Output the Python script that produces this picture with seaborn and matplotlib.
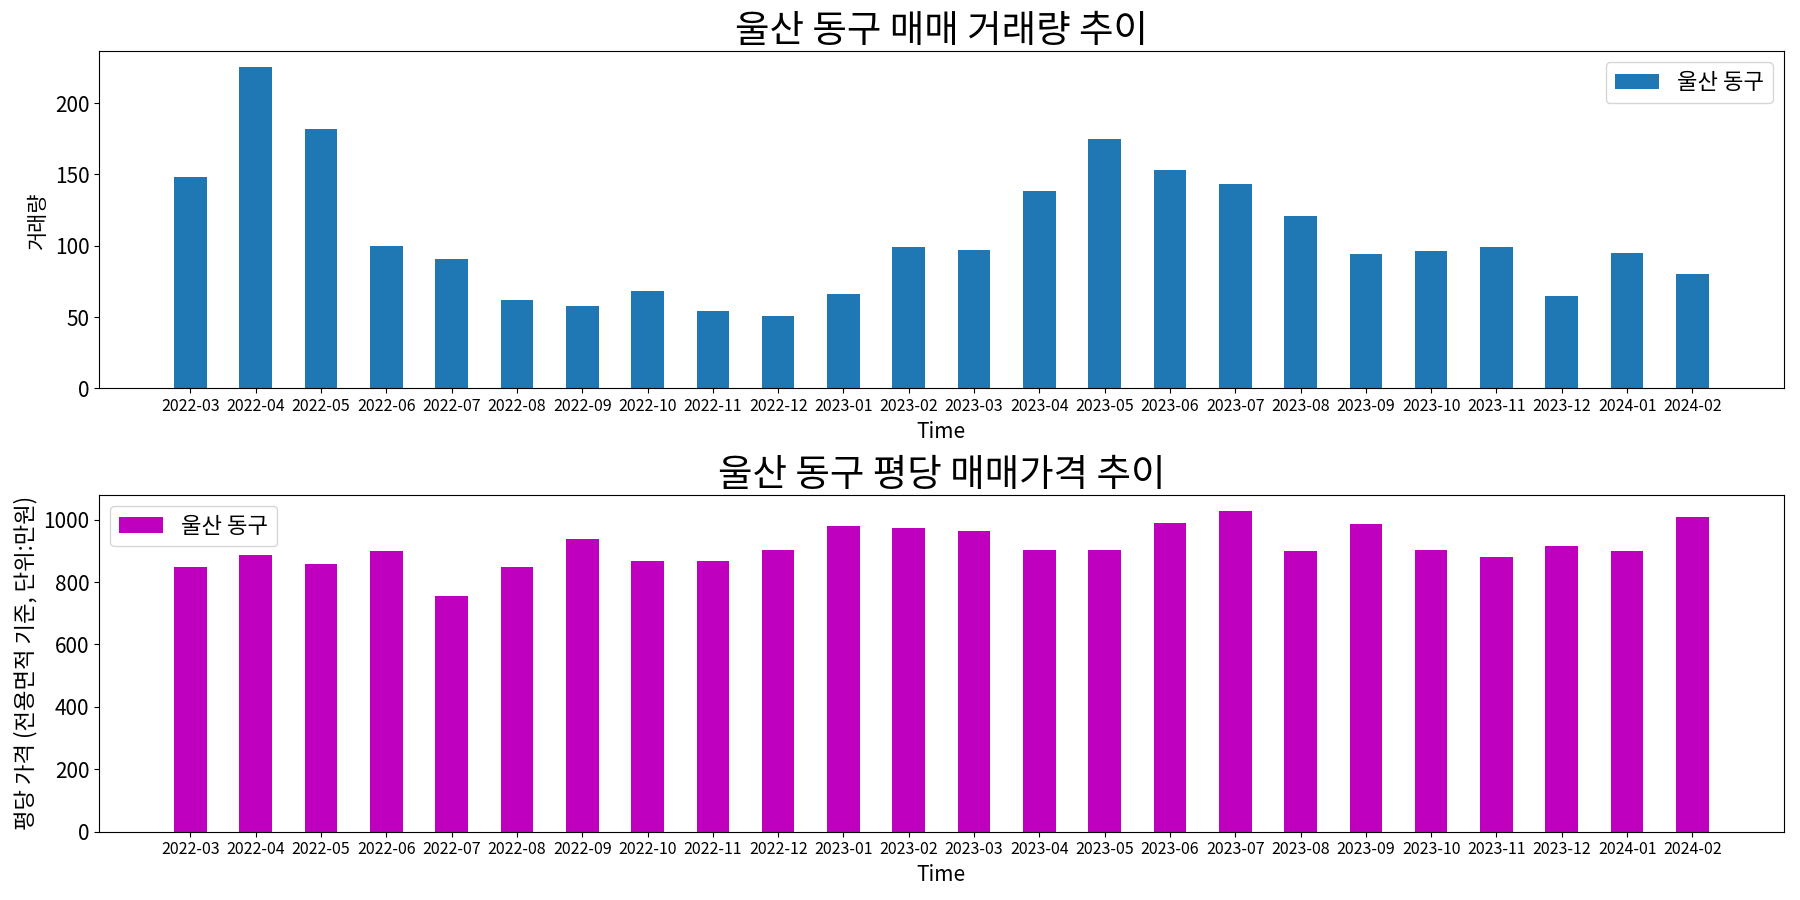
import numpy as np
import matplotlib
matplotlib.use("Agg")
import matplotlib.pyplot as plt
import seaborn as sns

months = ["2022-03", "2022-04", "2022-05", "2022-06", "2022-07", "2022-08",
          "2022-09", "2022-10", "2022-11", "2022-12", "2023-01", "2023-02",
          "2023-03", "2023-04", "2023-05", "2023-06", "2023-07", "2023-08",
          "2023-09", "2023-10", "2023-11", "2023-12", "2024-01", "2024-02"]
volume = [148, 225, 182, 100, 91, 62, 58, 68, 54, 51, 66, 99,
          97, 138, 175, 153, 143, 121, 94, 96, 99, 65, 95, 80]
price = [847, 888, 859, 898, 754, 847, 939, 869, 869, 904, 981, 974,
         962, 904, 904, 990, 1029, 901, 987, 904, 879, 917, 901, 1010]
region = "울산 동구"

plt.rcParams["font.family"] = ["Noto Sans CJK KR", "DejaVu Sans"]
plt.rcParams["axes.unicode_minus"] = False

fig, (ax1, ax2) = plt.subplots(2, 1, figsize=(18, 9), dpi=100)
fig.subplots_adjust(left=0.055, right=0.991, top=0.943, bottom=0.076, hspace=0.315)

# 거래량
sns.barplot(x=months, y=volume, color="#1f77b4", saturation=1, width=0.5,
            label=region, ax=ax1)
ax1.set_xlim(-1.4, len(months) + 0.4)
ax1.set_title(f"{region} 매매 거래량 추이", fontsize=27)
ax1.set_xlabel("Time", fontsize=15)
ax1.set_ylabel("거래량", fontsize=15)
ax1.tick_params(axis="y", labelsize=15)
ax1.tick_params(axis="x", labelsize=11.5)
ax1.legend(loc="upper right", fontsize=16)

# 평당 가격
sns.barplot(x=months, y=price, color="m", saturation=1, width=0.5,
            label=region, ax=ax2)
ax2.set_xlim(-1.4, len(months) + 0.4)
ax2.set_title(f"{region} 평당 매매가격 추이", fontsize=27)
ax2.set_xlabel("Time", fontsize=15)
ax2.set_ylabel("평당 가격 (전용면적 기준, 단위:만원)", fontsize=16)
ax2.tick_params(axis="y", labelsize=15)
ax2.tick_params(axis="x", labelsize=11.5)
ax2.legend(loc="upper left", fontsize=16)

fig.savefig("out.png")
